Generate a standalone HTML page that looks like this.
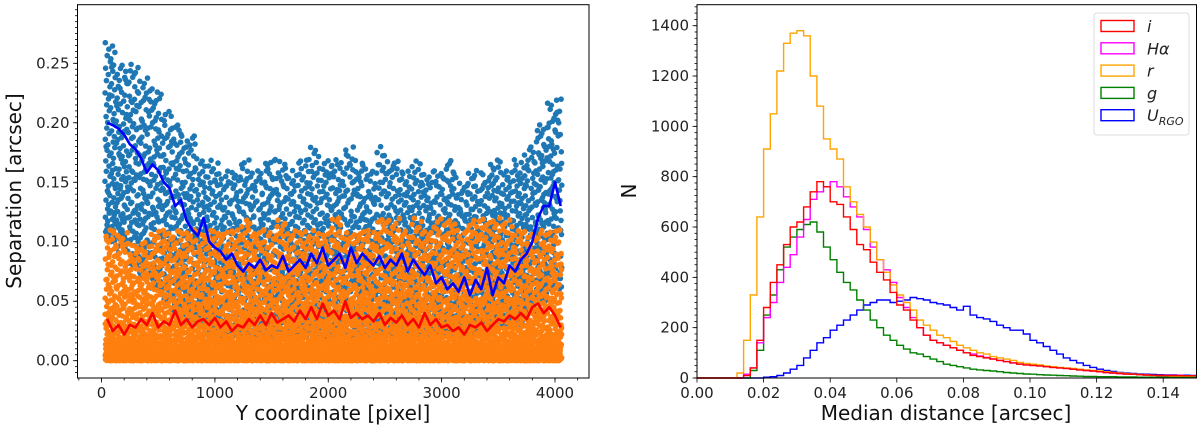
<!DOCTYPE html>
<html><head><meta charset="utf-8"><style>
html,body{margin:0;padding:0;background:#fff;}
svg{display:block;font-family:"DejaVu Sans","Liberation Sans",sans-serif;}
</style></head><body>
<svg id="fig" width="1200" height="434" viewBox="0 0 1200 434" xmlns="http://www.w3.org/2000/svg">
<g id="left"></g>
<g id="right"></g>
</svg>
<script>
// ---------- Left panel data ----------
const scatterBinStart = 30, scatterBinWidth = 100;
const blueHigh = [0.27,0.25,0.25,0.24,0.23,0.21,0.20,0.19,0.17,0.17,0.16,0.16,0.17,0.16,0.17,0.17,0.16,0.17,0.18,0.17,0.17,0.18,0.17,0.16,0.18,0.17,0.16,0.17,0.16,0.16,0.17,0.15,0.16,0.16,0.17,0.16,0.17,0.18,0.20,0.22,0.22];
const blueLow = [0.10,0.09,0.08,0.07,0.06,0.05,0.04,0.03,0.03,0.02,0.02,0.02,0.02,0.02,0.02,0.02,0.02,0.02,0.02,0.02,0.02,0.02,0.02,0.02,0.02,0.02,0.02,0.02,0.02,0.02,0.02,0.02,0.02,0.02,0.03,0.03,0.03,0.04,0.05,0.06,0.06];
const orangeHigh = [0.11,0.11,0.10,0.10,0.11,0.11,0.11,0.11,0.11,0.11,0.11,0.11,0.12,0.11,0.11,0.12,0.11,0.11,0.11,0.11,0.12,0.11,0.11,0.11,0.12,0.12,0.11,0.12,0.11,0.12,0.12,0.11,0.12,0.12,0.12,0.12,0.11,0.11,0.11,0.11,0.11];
const orangeLow = [0.0,0.0,0.0,0.0,0.0,0.0,0.0,0.0,0.0,0.0,0.0,0.0,0.0,0.0,0.0,0.0,0.0,0.0,0.0,0.0,0.0,0.0,0.0,0.0,0.0,0.0,0.0,0.0,0.0,0.0,0.0,0.0,0.0,0.0,0.0,0.0,0.0,0.0,0.0,0.0,0.0];
const blueLine = [0.20,0.198,0.195,0.19,0.182,0.178,0.17,0.158,0.165,0.16,0.15,0.145,0.13,0.135,0.118,0.11,0.105,0.12,0.10,0.095,0.092,0.085,0.09,0.08,0.075,0.082,0.078,0.085,0.076,0.08,0.078,0.088,0.075,0.08,0.085,0.078,0.09,0.082,0.095,0.08,0.085,0.09,0.078,0.095,0.082,0.09,0.085,0.08,0.088,0.078,0.085,0.08,0.09,0.075,0.085,0.078,0.072,0.08,0.065,0.07,0.06,0.065,0.058,0.07,0.055,0.068,0.06,0.078,0.055,0.07,0.065,0.08,0.075,0.085,0.09,0.10,0.12,0.13,0.13,0.15,0.13];
const redLine = [0.035,0.025,0.03,0.022,0.03,0.028,0.035,0.03,0.04,0.028,0.033,0.03,0.042,0.03,0.035,0.028,0.033,0.035,0.03,0.036,0.028,0.033,0.025,0.03,0.028,0.035,0.03,0.038,0.03,0.04,0.032,0.035,0.038,0.033,0.042,0.035,0.045,0.035,0.048,0.038,0.042,0.035,0.05,0.036,0.04,0.035,0.038,0.033,0.04,0.03,0.036,0.032,0.038,0.03,0.035,0.028,0.04,0.03,0.035,0.028,0.03,0.025,0.028,0.022,0.03,0.028,0.032,0.025,0.03,0.035,0.033,0.038,0.035,0.04,0.035,0.045,0.048,0.04,0.045,0.038,0.028];
const lineXStart = 50, lineXEnd = 4050;
const leftXTicks = [0,1000,2000,3000,4000];
const leftYTicks = [0.00,0.05,0.10,0.15,0.20,0.25];
const leftYTickLabels = ["0.00","0.05","0.10","0.15","0.20","0.25"];

// ---------- Right panel data ----------
const histBinWidth = 0.002;
const histR = [0,0,0,0,0,0,20,150,330,640,910,1050,1220,1330,1370,1380,1360,1200,1080,950,910,870,760,700,650,600,540,470,420,370,330,300,270,230,210,190,170,160,145,130,120,110,100,95,85,80,75,70,62,58,55,52,48,45,42,40,38,35,32,30,28,25,22,20,18,16,14,12,10,10,9,8,8,8,8];
const histI = [0,0,0,0,0,0,0,10,40,150,280,380,450,530,600,620,680,740,780,760,700,690,640,590,530,510,460,420,390,340,290,270,230,200,170,150,140,130,120,110,100,90,85,80,75,70,65,60,55,52,50,48,45,42,40,38,35,32,30,28,25,22,20,18,16,15,13,12,11,10,10,10,10,9,9];
const histHa = [0,0,0,0,0,0,0,15,40,140,240,300,380,440,490,560,630,710,740,760,780,760,720,680,640,590,520,470,430,380,320,280,240,200,170,150,140,130,120,110,100,95,88,82,76,70,65,60,56,52,50,48,45,42,40,38,35,32,30,28,25,22,20,18,16,15,13,12,11,10,10,10,10,9,9];
const histG = [0,0,0,0,0,0,0,0,30,110,250,330,430,520,560,590,610,620,580,520,470,420,380,350,310,270,230,200,170,150,130,115,100,95,85,75,65,55,50,45,40,35,32,30,28,25,22,20,18,16,15,13,12,11,10,9,8,7,6,6,5,5,5,4,4,4,3,3,3,3,3,3,3,3,3];
const histU = [0,0,0,0,0,0,0,0,0,0,3,5,10,20,35,50,80,110,140,160,190,210,230,250,270,290,300,310,310,300,305,310,320,315,310,300,295,290,280,270,285,250,240,235,225,210,200,190,190,175,150,140,125,110,95,80,70,60,50,42,35,30,26,22,20,18,16,15,14,13,12,12,11,11,10];
const rightXTicks = [0,0.02,0.04,0.06,0.08,0.10,0.12,0.14];
const rightXTickLabels = ["0.00","0.02","0.04","0.06","0.08","0.10","0.12","0.14"];
const rightYTicks = [0,200,400,600,800,1000,1200,1400];
const legendLabels = ["i","Hα","r","g","U"];

// ---------- helpers ----------
const NS = "http://www.w3.org/2000/svg";
function mk(parent, tag, attrs, text){
  const e = document.createElementNS(NS, tag);
  for (const k in attrs) e.setAttribute(k, attrs[k]);
  if (text !== undefined) e.textContent = text;
  parent.appendChild(e);
  return e;
}
function halton(i, b){
  let f = 1, r = 0;
  while (i > 0){ f /= b; r += f * (i % b); i = Math.floor(i / b); }
  return r;
}

// ---------- Left panel ----------
const L = document.getElementById('left');
const lx0 = 77.5, lx1 = 589, ly0 = 4.7, ly1 = 378;
const lxs = v => 101.5 + (v - 0) * (555 - 101.5) / 4000;
const lys = v => 360.7 - v * 1189.6;

const scat = mk(L, 'g', {});


function drawCloud(low, high, n, pw, color, name, seed){
  const g = mk(scat, 'g', {fill: color});
  
  
  let k = seed;
  for (let b = 0; b < high.length; b++){
    for (let j = 0; j < n; j++){
      k++;
      const u = halton(k, 2);
      const w = halton(k, 3);
      const xv = scatterBinStart + (b + u) * scatterBinWidth;
      if (xv > 4060) continue;
      const yv = low[b] + (high[b] - low[b]) * Math.pow(w, pw);
      mk(g, 'circle', {cx: lxs(xv).toFixed(1), cy: lys(yv).toFixed(1), r: 2.8});
    }
  }
}
drawCloud(blueLow, blueHigh, 90, 1.3, '#1f77b4', 'blue-scatter-series', 1);
drawCloud(orangeLow, orangeHigh, 110, 1.9, '#ff7f0e', 'orange-scatter-series', 5001);

function linePath(vals){
  const step = (lineXEnd - lineXStart) / (vals.length - 1);
  return vals.map((v,i)=> (i?'L':'M') + lxs(lineXStart + i*step).toFixed(1) + ',' + lys(v).toFixed(1)).join('');
}
const bl = mk(L, 'path', {d: linePath(blueLine), fill:'none', stroke:'#0000ff', 'stroke-width':2.6, 'stroke-linejoin':'round'});


const rl = mk(L, 'path', {d: linePath(redLine), fill:'none', stroke:'#ff0000', 'stroke-width':2.6, 'stroke-linejoin':'round'});



const lframe = mk(L, 'rect', {x:lx0, y:ly0, width:lx1-lx0, height:ly1-ly0, fill:'none', stroke:'#000', 'stroke-width':1});



const lxa = mk(L, 'g', {});


for (let v = -200; v <= 4200; v += 200){
  const x = lxs(v);
  if (x < lx0 || x > lx1) continue;
  mk(lxa, 'line', {x1:x, x2:x, y1:ly1, y2:ly1+2.5, stroke:'#000', 'stroke-width':0.8});
}
leftXTicks.forEach(v=>{
  const x = lxs(v);
  mk(lxa, 'line', {x1:x, x2:x, y1:ly1, y2:ly1+4.5, stroke:'#000', 'stroke-width':0.8});
  const t = mk(lxa, 'text', {x:x, y:ly1+20, 'text-anchor':'middle', 'font-size':15, fill:'#222'}, String(v));
  
  
});
const lxt = mk(L, 'text', {x:333, y:420, 'text-anchor':'middle', 'font-size':20, fill:'#111'}, 'Y coordinate [pixel]');



const lya = mk(L, 'g', {});


for (let i = -2; i <= 59; i++){
  const y = lys(i*0.005);
  if (y < ly0 || y > ly1) continue;
  mk(lya, 'line', {x1:lx0-2.5, x2:lx0, y1:y, y2:y, stroke:'#000', 'stroke-width':0.8});
}
leftYTicks.forEach((v,i)=>{
  const y = lys(v);
  mk(lya, 'line', {x1:lx0-4.5, x2:lx0, y1:y, y2:y, stroke:'#000', 'stroke-width':0.8});
  const t = mk(lya, 'text', {x:lx0-8, y:y+5, 'text-anchor':'end', 'font-size':15, fill:'#222'}, leftYTickLabels[i]);
  
  
});
const lyt = mk(L, 'text', {x:0, y:0, transform:'translate(21,191) rotate(-90)', 'text-anchor':'middle', 'font-size':20, fill:'#111'}, 'Separation [arcsec]');



// ---------- Right panel ----------
const R = document.getElementById('right');
const rx0 = 697, rx1 = 1196.5, ry0 = 4.7, ry1 = 378;
const rxs = v => 697 + v * (1196.5 - 697) / 0.15;
const rys = v => 378 - v * (378 - 25.7) / 1400;

const hg = mk(R, 'g', {});


function stepPath(vals){
  let d = 'M' + rxs(0).toFixed(1) + ',' + rys(0).toFixed(1);
  vals.forEach((v,i)=>{
    const xa = rxs(i*histBinWidth), xb = rxs(Math.min((i+1)*histBinWidth, 0.15));
    d += 'L' + xa.toFixed(1) + ',' + rys(v).toFixed(1) + 'L' + xb.toFixed(1) + ',' + rys(v).toFixed(1);
  });
  return d;
}
const hists = [[histU,'#0000ff','hist-u-rgo'],[histG,'#008000','hist-g'],[histHa,'#ff00ff','hist-h-alpha'],[histR,'#ffa500','hist-r'],[histI,'#ff0000','hist-i']];
hists.forEach(h=>{
  const p = mk(hg, 'path', {d: stepPath(h[0]), fill:'none', stroke:h[1], 'stroke-width':1.4});
  
  
});

const rframe = mk(R, 'rect', {x:rx0, y:ry0, width:rx1-rx0, height:ry1-ry0, fill:'none', stroke:'#000', 'stroke-width':1});



const rxa = mk(R, 'g', {});


rightXTicks.forEach((v,i)=>{
  const x = rxs(v);
  mk(rxa, 'line', {x1:x, x2:x, y1:ry1, y2:ry1+4.5, stroke:'#000', 'stroke-width':0.8});
  const t = mk(rxa, 'text', {x:x, y:ry1+20, 'text-anchor':'middle', 'font-size':15, fill:'#222'}, rightXTickLabels[i]);
  
  
});
const rxt = mk(R, 'text', {x:946, y:420, 'text-anchor':'middle', 'font-size':20, fill:'#111'}, 'Median distance [arcsec]');



const rya = mk(R, 'g', {});


for (let v = 0; v <= 1475; v += 25){
  const y = rys(v);
  if (y < ry0) continue;
  mk(rya, 'line', {x1:rx0-2.5, x2:rx0, y1:y, y2:y, stroke:'#000', 'stroke-width':0.8});
}
rightYTicks.forEach(v=>{
  const y = rys(v);
  mk(rya, 'line', {x1:rx0-4.5, x2:rx0, y1:y, y2:y, stroke:'#000', 'stroke-width':0.8});
  const t = mk(rya, 'text', {x:rx0-8, y:y+5, 'text-anchor':'end', 'font-size':15, fill:'#222'}, String(v));
  
  
});
const ryt = mk(R, 'text', {x:0, y:0, transform:'translate(636,191) rotate(-90)', 'text-anchor':'middle', 'font-size':20, fill:'#111'}, 'N');



// legend
const lg = mk(R, 'g', {});


mk(lg, 'rect', {x:1094, y:13, width:95, height:122, rx:3, fill:'#fff', 'fill-opacity':0.85, stroke:'#ddd', 'stroke-width':1});
const legColors = ['#ff0000','#ff00ff','#ffa500','#008000','#0000ff'];
legendLabels.forEach((lab,i)=>{
  const y = 26 + i*22.3;
  const e = mk(lg, 'g', {});
  
  
  mk(e, 'rect', {x:1101, y:y-5.5, width:33, height:11, fill:'none', stroke:legColors[i], 'stroke-width':1.4});
  const t = mk(e, 'text', {x:1147, y:y+6, 'font-size':16, 'font-style':'italic', fill:'#222'}, lab);
  if (lab === 'U'){
    mk(t, 'tspan', {'font-size':11, dy:4}, 'RGO');
  }
});
</script>
</body></html>
